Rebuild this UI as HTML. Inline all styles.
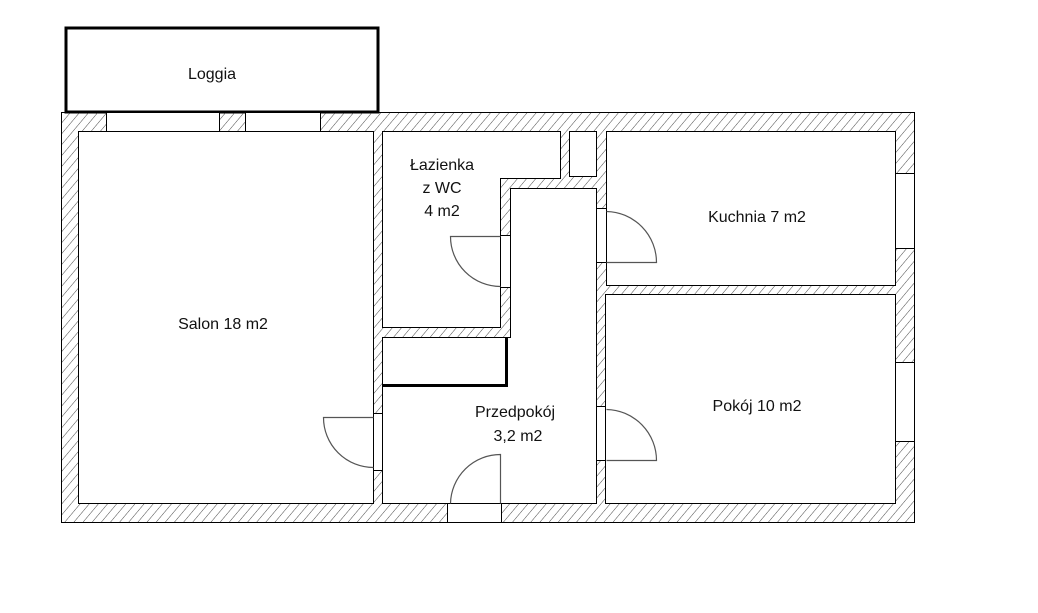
<!DOCTYPE html>
<html><head><meta charset="utf-8"><style>
html,body{margin:0;padding:0;background:#fff;}
svg{display:block;}
text{font-family:"Liberation Sans","DejaVu Sans",sans-serif;font-size:16px;fill:#111;text-anchor:middle;}
</style></head><body>
<svg width="1038" height="613" viewBox="0 0 1038 613" xmlns="http://www.w3.org/2000/svg">
<defs>
<pattern id="h" patternUnits="userSpaceOnUse" width="7" height="7" patternTransform="rotate(40)">
<line x1="0" y1="0" x2="0" y2="7" stroke="#333" stroke-width="0.9"/>
</pattern>
</defs>
<rect x="66" y="28" width="312" height="84" fill="#fff" stroke="#000" stroke-width="3"/>
<rect x="61.5" y="112.5" width="853" height="410" fill="url(#h)" stroke="#000" stroke-width="1"/>
<g fill="#fff" stroke="#000" stroke-width="1">
<rect x="106.5" y="112.5" width="113" height="19"/>
<rect x="245.5" y="112.5" width="75" height="19"/>
<rect x="895.5" y="173.5" width="19" height="75"/>
<rect x="895.5" y="362.5" width="19" height="79"/>
<rect x="447.5" y="503.5" width="54" height="19"/>
<rect x="78.5" y="131.5" width="295" height="372"/>
<polygon points="382.5,131.5 560.5,131.5 560.5,178.5 500.5,178.5 500.5,327.5 382.5,327.5"/>
<rect x="569.5" y="131.5" width="27" height="45"/>
<polygon points="510.5,188.5 596.5,188.5 596.5,503.5 382.5,503.5 382.5,337.5 510.5,337.5"/>
<rect x="606.5" y="131.5" width="289" height="154"/>
<rect x="605.5" y="294.5" width="290" height="209"/>
<rect x="500.5" y="235.5" width="10" height="52"/>
<rect x="373.5" y="413.5" width="9" height="57"/>
<rect x="596.5" y="208.5" width="10" height="54"/>
<rect x="596.5" y="406.5" width="9" height="54"/>
</g>
<polyline points="383,385.5 506.5,385.5 506.5,337" fill="none" stroke="#000" stroke-width="3"/>
<g fill="none" stroke="#555" stroke-width="1.2">
<path d="M500.5,236.5 H450.5 A50,50 0 0 0 500.5,286.5"/>
<path d="M373.5,417.5 H323.5 A50,50 0 0 0 373.5,467.5"/>
<path d="M606.5,262.5 H656.5 A51,51 0 0 0 606.5,211.5"/>
<path d="M606.5,460.5 H656.5 A51,51 0 0 0 606.5,409.5"/>
<path d="M500.5,503.5 V454.5 A50,50 0 0 0 450.5,503.5"/>
</g>
<text x="212" y="79">Loggia</text>
<text x="223" y="329">Salon 18 m2</text>
<text x="442" y="170">Łazienka</text>
<text x="442" y="193">z WC</text>
<text x="442" y="216">4 m2</text>
<text x="757" y="222">Kuchnia 7 m2</text>
<text x="515" y="417">Przedpokój</text>
<text x="518" y="441">3,2 m2</text>
<text x="757" y="411">Pokój 10 m2</text>
</svg>
</body></html>
